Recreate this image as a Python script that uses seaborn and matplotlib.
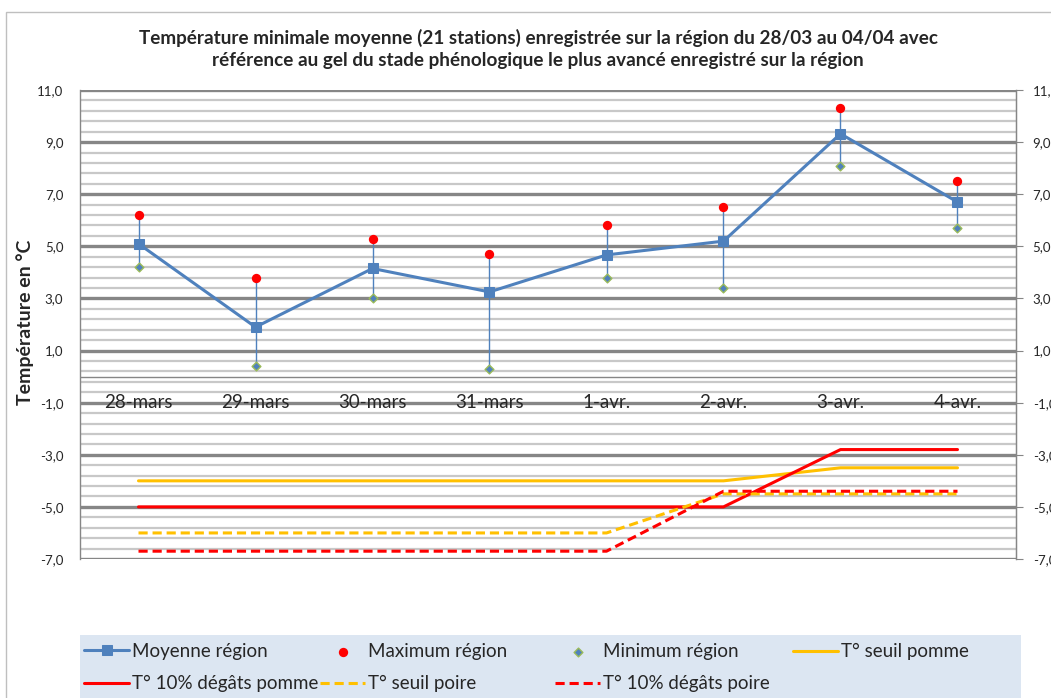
import matplotlib
matplotlib.use('Agg')
import matplotlib.pyplot as plt
import matplotlib.patches as mpatches
import seaborn as sb
import pandas as pd
import numpy as np

#================================================
# DATA

dates = ['28-mars', '29-mars', '30-mars', '31-mars', '1-avr.', '2-avr.', '3-avr.', '4-avr.']
moyenne = [5.1, 1.9, 4.15, 3.25, 4.67, 5.2, 9.32, 6.7]
maximum = [6.2, 3.8, 5.3, 4.7, 5.8, 6.5, 10.3, 7.5]
minimum = [4.2, 0.4, 3.0, 0.3, 3.8, 3.4, 8.1, 5.7]
seuil_pomme = [-4.0, -4.0, -4.0, -4.0, -4.0, -4.0, -3.5, -3.5]
degats_pomme = [-5.0, -5.0, -5.0, -5.0, -5.0, -5.0, -2.8, -2.8]
seuil_poire = [-6.0, -6.0, -6.0, -6.0, -6.0, -4.5, -4.5, -4.5]
degats_poire = [-6.7, -6.7, -6.7, -6.7, -6.7, -4.4, -4.4, -4.4]

y_major = np.arange(-7, 11.01, 2)
y_minor = np.arange(-7, 11.01, 0.4)

df = pd.DataFrame({'pos': np.arange(len(dates)), 'date': dates,
                   'moyenne': moyenne, 'max': maximum, 'min': minimum,
                   'seuil_pomme': seuil_pomme, 'degats_pomme': degats_pomme,
                   'seuil_poire': seuil_poire, 'degats_poire': degats_poire})

#================================================
# STYLE

sb.set_style('white')
plt.rcParams['font.family'] = ['Lato', 'DejaVu Sans']

BLUE = '#4F81BD'
RED = '#FF0000'
ORANGE = '#FFC000'
GREEN = '#9BBB59'
GRID_DARK = '#868686'
GRID_LIGHT = '#C8C8C8'

W, H = 1051, 698
fig = plt.figure(figsize=(W / 100, H / 100), dpi=100)
ax = fig.add_axes([80 / W, (H - 559) / H, (1016 - 80) / W, (559 - 90) / H])

#------------------------------------
# Threshold lines
dash = (0, (3, 1.6))
sb.lineplot(data=df, x='pos', y='seuil_pomme', color=ORANGE, linewidth=2.2, ax=ax, label='T° seuil pomme', zorder=3)
sb.lineplot(data=df, x='pos', y='degats_pomme', color=RED, linewidth=2.2, ax=ax, label='T° 10% dégâts pomme', zorder=3)
sb.lineplot(data=df, x='pos', y='seuil_poire', color=ORANGE, linewidth=2.2, linestyle=dash, ax=ax, label='T° seuil poire', zorder=3)
sb.lineplot(data=df, x='pos', y='degats_poire', color=RED, linewidth=2.2, linestyle=dash, ax=ax, label='T° 10% dégâts poire', zorder=3)

# High-low lines
ax.vlines(df['pos'], df['min'], df['max'], color=BLUE, linewidth=1, zorder=3)

# Mean, max, min
sb.lineplot(data=df, x='pos', y='moyenne', color=BLUE, linewidth=2.2, marker='s', markersize=7,
            markeredgecolor=BLUE, ax=ax, label='Moyenne région', zorder=4)
sb.scatterplot(data=df, x='pos', y='max', color=RED, s=45, edgecolor=RED, linewidth=0, ax=ax,
               label='Maximum région', zorder=5)
sb.scatterplot(data=df, x='pos', y='min', color=BLUE, marker='D', s=20, edgecolor=GREEN, linewidth=1, ax=ax,
               label='Minimum région', zorder=5)

handles, labels = ax.get_legend_handles_labels()
hmap = dict(zip(labels, handles))
ax.get_legend().remove()

#------------------------------------
# Axes formatting
ax.set_xlim(-0.5, len(dates) - 0.5)
ax.set_ylim(-7, 11)
ax.set_xticks([])
ax.set_xlabel('')
ax.set_ylabel('')
ax.set_yticks(y_major)
ax.set_yticks(y_minor, minor=True)
ax.set_yticklabels([f'{v:.1f}'.replace('.', ',') for v in y_major], fontsize=9.5)
ax.tick_params(axis='y', which='both', length=0, pad=12)
ax.grid(axis='y', which='minor', color=GRID_LIGHT, linewidth=1.6)
ax.grid(axis='y', which='major', color=GRID_DARK, linewidth=2.4)
ax.set_axisbelow(True)
ax.axhline(0, color=GRID_DARK, linewidth=1, zorder=1)
for side in ['top', 'bottom']:
    ax.spines[side].set_visible(False)
for side in ['left', 'right']:
    ax.spines[side].set_color(GRID_DARK)
    ax.spines[side].set_linewidth(1)

ax2 = ax.twinx()
ax2.set_ylim(-7, 11)
ax2.set_yticks(y_major)
ax2.set_yticklabels([f'{v:.1f}'.replace('.', ',') for v in y_major], fontsize=9.5)
ax2.tick_params(axis='y', length=5, color=GRID_DARK, pad=7)
for side in ['top', 'bottom', 'left']:
    ax2.spines[side].set_visible(False)
ax2.spines['right'].set_color(GRID_DARK)
ax2.grid(False)

# Category labels sit at the -1 level
for i, d in enumerate(dates):
    ax.text(i, -1, d, ha='center', va='center', fontsize=13.5, zorder=6)

#------------------------------------
# Titles
fig.text(0.512, 1 - 49 / H,
         'Température minimale moyenne (21 stations) enregistrée sur la région du 28/03 au 04/04 avec\n'
         'référence au gel du stade phénologique le plus avancé enregistré sur la région',
         ha='center', va='center', fontsize=13.6, fontweight='bold', linespacing=1.4)
fig.text(25 / W, 1 - 322 / H, 'Température en °C', rotation=90, ha='center', va='center',
         fontsize=14, fontweight='bold')

# Chart border
fig.patches.append(mpatches.Rectangle((6 / W, -0.05), 1.2, 1 - 12 / H + 0.05, transform=fig.transFigure,
                                      fill=False, edgecolor='#BFBFBF', linewidth=1))

#------------------------------------
# Legend
fig.patches.append(mpatches.Rectangle((80 / W, 0), (1021 - 80) / W, (H - 635) / H, transform=fig.transFigure,
                                      facecolor='#DCE6F2', edgecolor='none', zorder=0))
columns = [(84, ['Moyenne région', 'T° 10% dégâts pomme']),
           (320, ['Maximum région', 'T° seuil poire']),
           (555, ['Minimum région', 'T° 10% dégâts poire']),
           (793, ['T° seuil pomme'])]
for x0, labs in columns:
    leg = fig.legend([hmap[l] for l in labs], labs, loc='upper left',
                     bbox_to_anchor=(x0 / W, 1 - 643 / H), bbox_transform=fig.transFigure,
                     frameon=False, fontsize=13.5, handlelength=2.4, handletextpad=0.15,
                     labelspacing=0.82, borderpad=0, borderaxespad=0)

fig.savefig('out.png', dpi=100)
